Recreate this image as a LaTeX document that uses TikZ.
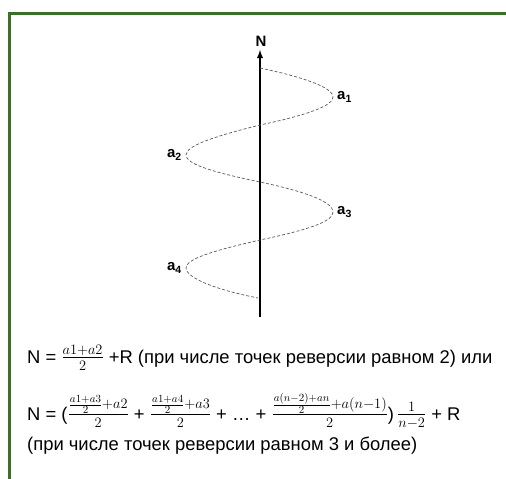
\documentclass[tikz,border=0pt]{standalone}
\usepackage[no-math]{fontspec}
\setmainfont{Liberation Sans}
\usepackage{amsmath}
\usepackage{tikz}
\usetikzlibrary{positioning}
\definecolor{FrameGreen}{HTML}{3B7029}
\definecolor{WaveGrey}{HTML}{5A5A5A}
\newcommand{\bigmath}[1]{{\fontsize{21}{24}\selectfont$#1$}}

\begin{document}
\begin{tikzpicture}[x=1pt,y=-1pt,>=latex]
  \tikzstyle{frame}=[draw=FrameGreen,line width=3pt]
  \tikzstyle{axis}=[draw=black,line width=1.8pt]
  \tikzstyle{wave}=[draw=WaveGrey,line width=0.7pt,densely dashed]
  \tikzstyle{peak}=[inner sep=1pt,font=\fontsize{15}{17}\selectfont\bfseries]
  \tikzstyle{formula}=[inner sep=0pt,anchor=base west,
    font=\fontsize{18.4}{22}\selectfont]
  \useasboundingbox (0,0) rectangle (506,479);
  \draw[frame] (9.5,479) -- (9.5,13.5) -- (506,13.5);
  % axis
  \coordinate (bottom) at (260,317);
  \coordinate (top) at (260,50);
  \draw[axis,->] (bottom) -- (top);
  \node[peak,anchor=south] (N) at (261,48) {N};
  % reversal points
  \coordinate (s0) at (260,68);
  \coordinate (p1) at (333,97);
  \coordinate (s1) at (260,125);
  \coordinate (p2) at (186,155);
  \coordinate (s2) at (260,182);
  \coordinate (p3) at (333,212);
  \coordinate (s3) at (260,240);
  \coordinate (p4) at (186,268);
  \coordinate (s4) at (258,298);
  \draw[wave] (s0) .. controls (312,79) and (333,89) .. (p1)
    .. controls (333,105) and (312,114) .. (s1)
    .. controls (212,137) and (186,146) .. (p2)
    .. controls (186,164) and (212,172) .. (s2)
    .. controls (312,193) and (333,203) .. (p3)
    .. controls (333,221) and (312,229) .. (s3)
    .. controls (212,251) and (186,259) .. (p4)
    .. controls (186,277) and (212,289) .. (s4);
  \node[peak,right=3pt of p1] (a1) {a\textsubscript{1}};
  \node[peak,left=3pt of p2] (a2) {a\textsubscript{2}};
  \node[peak,right=3pt of p3] (a3) {a\textsubscript{3}};
  \node[peak,left=3pt of p4] (a4) {a\textsubscript{4}};
  % formulas
  \node[formula] (two) at (27,363) {N = \bigmath{\frac{a1+a2}{2}} +R
    (при числе точек реверсии равном 2) или};
  \node[formula] (many) at (27,420) {N = (\bigmath{\frac{\frac{a1+a3}{2}+a2}{2}} +
    \bigmath{\frac{\frac{a1+a4}{2}+a3}{2}} + \dots{} +
    \bigmath{\frac{\frac{a(n-2)+an}{2}+a(n-1)}{2}})\,\bigmath{\frac{1}{n-2}} + R};
  \node[formula] (note) at (27,450) {(при числе точек реверсии равном 3 и более)};
\end{tikzpicture}
\end{document}
